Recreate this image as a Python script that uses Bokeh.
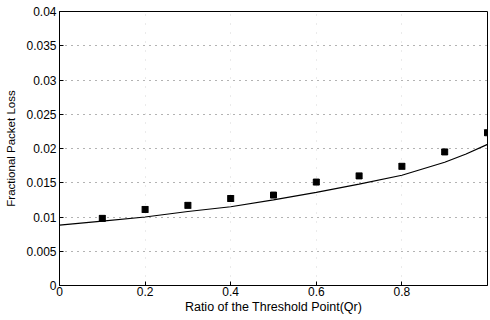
from bokeh.plotting import figure
from bokeh.models import FixedTicker, Range1d
from bokeh.embed import file_html
from bokeh.resources import INLINE

# Data
curve_x = [0.0, 0.1, 0.2, 0.3, 0.4, 0.5, 0.6, 0.7, 0.8, 0.9, 0.95, 1.0]
curve_y = [0.0088, 0.0094, 0.0100, 0.0108, 0.0115, 0.0125, 0.0136, 0.0148, 0.0161, 0.0180, 0.0192, 0.0206]
sim_x = [0.1, 0.2, 0.3, 0.4, 0.5, 0.6, 0.7, 0.8, 0.9, 1.0]
sim_y = [0.0098, 0.0111, 0.0117, 0.0127, 0.0132, 0.0151, 0.0160, 0.0174, 0.0195, 0.0223]
x_ticks = [0, 0.2, 0.4, 0.6, 0.8]
x_labels = ["0", "0.2", "0.4", "0.6", "0.8"]
y_ticks = [0, 0.005, 0.01, 0.015, 0.02, 0.025, 0.03, 0.035, 0.04]
y_labels = ["0", "0.005", "0.01", "0.015", "0.02", "0.025", "0.03", "0.035", "0.04"]

FONT = "Liberation Sans"

p = figure(width=488, height=316, output_backend="svg", toolbar_location=None,
           x_range=Range1d(0, 1), y_range=Range1d(0, 0.04),
           min_border_left=59, min_border_right=1, min_border_top=11, min_border_bottom=30)
p.outline_line_color = "black"
p.outline_line_width = 1
p.background_fill_color = "white"

p.line(curve_x, curve_y, line_color="black", line_width=1.2)
p.scatter(sim_x, sim_y, marker="square_x", size=6, fill_color="black", line_color="black")

for ax in (p.xaxis[0], p.yaxis[0]):
    ax.major_tick_in = 4
    ax.major_tick_out = 0
    ax.minor_tick_in = 0
    ax.minor_tick_out = 0
    ax.axis_line_color = "black"
    ax.major_tick_line_color = "black"
    ax.major_label_text_font = FONT
    ax.major_label_text_font_size = "12px"
    ax.major_label_text_color = "black"
    ax.axis_label_text_font = FONT
    ax.axis_label_text_font_style = "normal"
    ax.axis_label_text_color = "black"

p.xaxis.axis_label_text_font_size = "12.5px"
p.yaxis.axis_label_text_font_size = "11.5px"
p.xaxis.ticker = FixedTicker(ticks=x_ticks)
p.xaxis.major_label_overrides = {t: l for t, l in zip(x_ticks, x_labels)}
p.yaxis.ticker = FixedTicker(ticks=y_ticks)
p.yaxis.major_label_overrides = {t: l for t, l in zip(y_ticks, y_labels)}
p.xaxis.axis_label = "Ratio of the Threshold Point(Qr)"
p.yaxis.axis_label = "Fractional Packet Loss"
p.xaxis.axis_label_standoff = 1
p.yaxis.axis_label_standoff = 6
p.xaxis.major_label_standoff = 1
p.yaxis.major_label_standoff = 3

p.xgrid.grid_line_color = "#bbbbbb"
p.xgrid.grid_line_dash = "1 8"
p.xgrid.grid_line_alpha = 0.6
p.ygrid.grid_line_color = "#666666"
p.ygrid.grid_line_dash = "1 5"

open("out.html", "w").write(file_html(p, INLINE))
